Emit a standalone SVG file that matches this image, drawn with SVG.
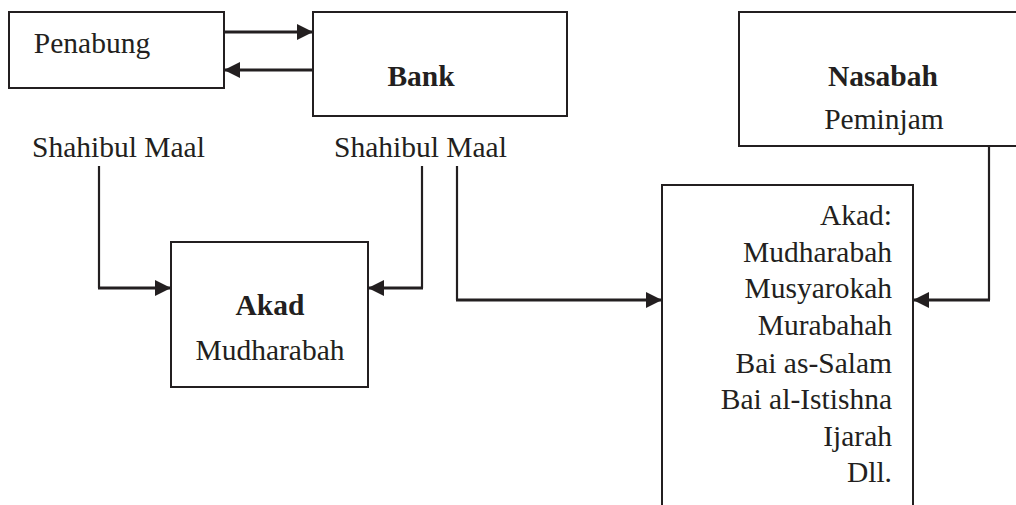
<svg xmlns="http://www.w3.org/2000/svg" width="1016" height="505" viewBox="0 0 1016 505">
<style>
.box{fill:#fff;stroke:#231f20;stroke-width:2}
.t{font-family:"Liberation Serif","Times New Roman",serif;font-size:29.5px;fill:#231f20}
.b{font-weight:bold}
.c{text-anchor:middle}
.r{text-anchor:end}
.ln{fill:none;stroke:#231f20;stroke-width:2.2}
.ar{fill:none;stroke:#231f20;stroke-width:3;marker-end:url(#ah)}
</style>
<defs>
<marker id="ah" markerUnits="userSpaceOnUse" markerWidth="16" markerHeight="16" refX="16" refY="8" orient="auto">
<path d="M0,0 L16,8 L0,16 z" fill="#231f20"/>
</marker>
</defs>
<rect width="1016" height="505" fill="#fff"/>
<g id="penabung">
<rect class="box" x="9" y="12" width="215" height="76"/>
<text class="t c" x="92" y="53">Penabung</text>
</g>
<g id="bank">
<rect class="box" x="313" y="12" width="254" height="104"/>
<text class="t b c" x="421" y="86">Bank</text>
</g>
<g id="nasabah">
<rect class="box" x="739" y="12" width="290" height="134"/>
<text class="t b c" x="883" y="86">Nasabah</text>
<text class="t c" x="884" y="129">Peminjam</text>
</g>
<g id="label-shahibul1">
<text class="t" x="32" y="157">Shahibul Maal</text>
</g>
<g id="label-shahibul2">
<text class="t" x="334" y="157">Shahibul Maal</text>
</g>
<g id="akad-mudharabah">
<rect class="box" x="171" y="242" width="197" height="145"/>
<text class="t b c" x="270" y="315">Akad</text>
<text class="t c" x="270" y="360">Mudharabah</text>
</g>
<g id="akad-list">
<path class="box" d="M662,510 L662,185 L913,185 L913,510"/>
<text class="t r" x="892" y="225">Akad:</text>
<text class="t r" x="892" y="262">Mudharabah</text>
<text class="t r" x="892" y="298">Musyarokah</text>
<text class="t r" x="892" y="335">Murabahah</text>
<text class="t r" x="892" y="373">Bai as-Salam</text>
<text class="t r" x="892" y="409">Bai al-Istishna</text>
<text class="t r" x="892" y="446">Ijarah</text>
<text class="t r" x="892" y="482">Dll.</text>
</g>
<g id="connectors">
<line class="ar" x1="224" y1="32" x2="313" y2="32"/>
<line class="ar" x1="313" y1="70" x2="224" y2="70"/>
<path class="ln" d="M99,166 L99,288"/>
<path class="ar" d="M98,288 L171,288"/>
<path class="ln" d="M422,166 L422,288"/>
<path class="ar" d="M423,288 L368,288"/>
<path class="ln" d="M457,166 L457,300"/>
<path class="ar" d="M456,300 L662,300"/>
<path class="ln" d="M989,146 L989,300"/>
<path class="ar" d="M990,300 L913,300"/>
</g>
</svg>
